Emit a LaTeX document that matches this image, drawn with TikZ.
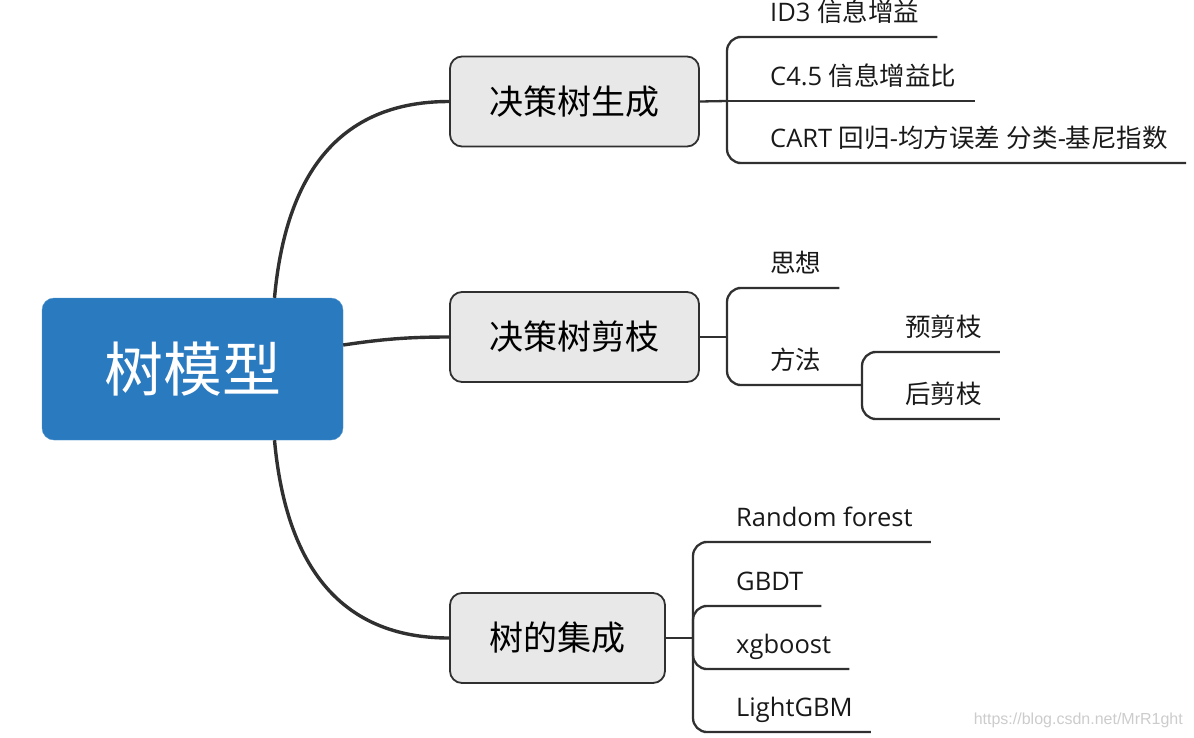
\documentclass[tikz,border=0pt]{standalone}
\usepackage{fontspec}
\setmainfont{Open Sans}
\newfontfamily\cjk{Noto Sans CJK SC}
\newfontfamily\urlfont{Liberation Sans}
\definecolor{rootblue}{RGB}{42,122,192}
\definecolor{topicgray}{RGB}{232,232,232}
\definecolor{inkgray}{RGB}{48,48,48}
\tikzset{
  rootbox/.style={fill=rootblue, draw=rootblue!80!white, rounded corners=12pt, text=white,
    minimum width=301pt, minimum height=142pt, font=\cjk\fontsize{59}{70}\selectfont},
  topic/.style={fill=topicgray, draw=inkgray, line width=1.8pt, rounded corners=12pt,
    minimum height=90pt, font=\cjk\fontsize{34}{40}\selectfont},
  leaf/.style={anchor=south west, inner xsep=18pt, inner ysep=15pt, text depth=0pt,
    text=black!90, font=\fontsize{25.5}{30}\selectfont},
  trunk/.style={draw=inkgray, line width=3.4pt},
  twig/.style={draw=inkgray, line width=2.3pt, rounded corners=14pt},
}
\begin{document}
\begin{tikzpicture}[x=1pt, y=-1pt]
\useasboundingbox (0,0) rectangle (1194,737);

% main topics
\node[rootbox] (tree) at (192.5,369) {树模型};
\node[topic, minimum width=249pt] (gen) at (574.5,101.5) {决策树生成};
\node[topic, minimum width=249pt] (prune) at (574.5,337) {决策树剪枝};
\node[topic, minimum width=215pt] (ens) at (557.5,638) {树的集成};

\draw[trunk] ([xshift=82pt]tree.north) .. controls +(10,-110) and +(-120,0) .. (gen.west);
\draw[trunk] ([yshift=24pt]tree.east) .. controls +(40,-6) and +(-40,0) .. (prune.west);
\draw[trunk] ([xshift=82pt]tree.south) .. controls +(10,110) and +(-120,0) .. (ens.west);

% leaves
\node[leaf] (id3) at (752,37) {ID3 {\cjk 信息增益}};
\node[leaf] (c45) at (752,101) {C4.5 {\cjk 信息增益比}};
\node[leaf] (cart) at (752,163) {CART {\cjk 回归}-{\cjk 均方误差} {\cjk 分类}-{\cjk 基尼指数}};
\node[leaf] (idea) at (752,288) {\cjk 思想};
\node[leaf] (method) at (752,385) {\cjk 方法};
\node[leaf] (pre) at (887,352) {\cjk 预剪枝};
\node[leaf] (post) at (887,419) {\cjk 后剪枝};
\node[leaf] (rf) at (718,542) {Random forest};
\node[leaf] (gbdt) at (718,606) {GBDT};
\node[leaf] (xgb) at (718,669) {xgboost};
\node[leaf] (lgbm) at (718,732) {LightGBM};

\coordinate (gen-hub) at (727,101);
\coordinate (prune-hub) at (727,337);
\coordinate (method-hub) at (862,385);
\coordinate (ens-hub) at (693,638);

% brackets
\draw[twig] (gen.east) -- (gen-hub);
\draw[twig] (gen-hub) -- (c45.south east);
\foreach \leaf in {id3,cart}
  \draw[twig] (gen-hub) |- (\leaf.south west) -- (\leaf.south east);

\draw[twig] (prune.east) -- (prune-hub);
\draw[twig] (prune-hub) |- (idea.south west) -- (idea.south east);
\draw[twig] (prune-hub) |- (method.south west) -- (method.south east) -- (method-hub);
\foreach \leaf in {pre,post}
  \draw[twig] (method-hub) |- (\leaf.south west) -- (\leaf.south east);

\draw[twig] (ens.east) -- (ens-hub);
\foreach \leaf in {rf,gbdt,xgb,lgbm}
  \draw[twig] (ens-hub) |- (\leaf.south west) -- (\leaf.south east);

\node[anchor=base east, inner sep=0pt, text=black!20, font=\urlfont\fontsize{16}{18}\selectfont]
  (credit) at (1183,724) {https://blog.csdn.net/MrR1ght};
\end{tikzpicture}
\end{document}
